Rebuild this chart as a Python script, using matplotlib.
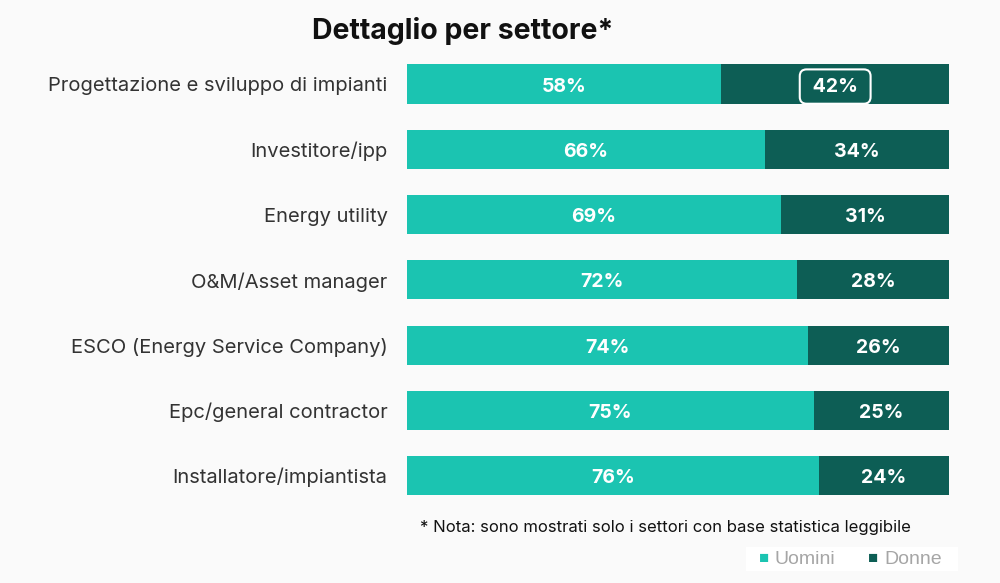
import matplotlib
matplotlib.use("Agg")
import matplotlib.pyplot as plt
from matplotlib.patches import FancyBboxPatch

categories = ["Progettazione e sviluppo di impianti", "Investitore/ipp", "Energy utility",
              "O&M/Asset manager", "ESCO (Energy Service Company)", "Epc/general contractor",
              "Installatore/impiantista"]
uomini = [58, 66, 69, 72, 74, 75, 76]
donne = [42, 34, 31, 28, 26, 25, 24]

C_U = "#1BC4B1"
C_D = "#0D5E55"
BG = "#FAFAFA"
FONT = ["Inter", "DejaVu Sans"]

fig = plt.figure(figsize=(10, 5.83), dpi=100, facecolor=BG)
ax = fig.add_axes([0.407, 0.128, 0.542, 0.784])
ax.set_facecolor(BG)

y = list(range(len(categories)))
ax.barh(y, uomini, height=0.6, color=C_U)
ax.barh(y, donne, left=uomini, height=0.6, color=C_D)
ax.set_xlim(0, 100)
ax.set_ylim(len(categories) - 0.5, -0.5)
for s in ax.spines.values():
    s.set_visible(False)
ax.set_xticks([])
ax.set_yticks(y)
ax.set_yticklabels(categories, family=FONT, fontsize=14.5, color="#333333")
ax.tick_params(axis="y", length=0, pad=14)

for i, (u, d) in enumerate(zip(uomini, donne)):
    ax.text(u / 2, i + 0.04, f"{u}%", ha="center", va="center", color="white",
            fontsize=14, fontweight="bold", family=FONT)
    label = f" {d}% " if i == 0 else f"{d}%"
    t = ax.text(u + d / 2, i + 0.04, label, ha="center", va="center", color="white",
                fontsize=14, fontweight="bold", family=FONT)
    if i == 0:
        t.set_bbox(dict(boxstyle="round,pad=0.42,rounding_size=0.35", fc=C_D, ec="white", lw=1.5))

fig.text(0.463, 0.946, "Dettaglio per settore*", ha="center", va="center",
         fontsize=20.5, fontweight="bold", family=FONT, color="#111111")
fig.text(0.42, 0.096, "* Nota: sono mostrati solo i settori con base statistica leggibile",
         ha="left", va="center", fontsize=12, family=FONT, color="#111111")

# legend
fig.patches.append(FancyBboxPatch((0.746, 0.021), 0.212, 0.041, boxstyle="square,pad=0",
                                  transform=fig.transFigure, fc="white", ec="none"))
fig.text(0.759, 0.041, "■", ha="left", va="center", fontsize=8, color=C_U, family=FONT)
fig.text(0.775, 0.040, "Uomini", ha="left", va="center", fontsize=14, color="#A6A6A6",
         family=["Liberation Sans", "DejaVu Sans"])
fig.text(0.868, 0.041, "■", ha="left", va="center", fontsize=8, color=C_D, family=FONT)
fig.text(0.884, 0.040, "Donne", ha="left", va="center", fontsize=14, color="#A6A6A6",
         family=["Liberation Sans", "DejaVu Sans"])

fig.savefig("out.png", dpi=100, facecolor=BG)
